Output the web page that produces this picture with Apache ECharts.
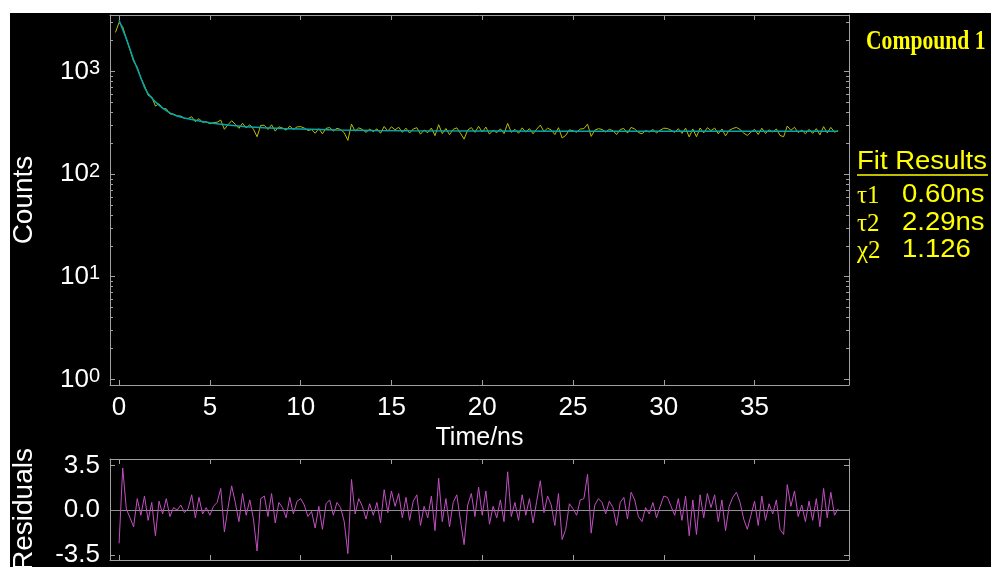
<!DOCTYPE html>
<html>
<head>
<meta charset="utf-8">
<script src="https://cdn.jsdelivr.net/npm/echarts@6/dist/echarts.min.js"></script>
<style>
html,body{margin:0;padding:0;background:#fff;}
#chart{width:991px;height:567px;}
</style>
</head>
<body>
<div id="chart"></div>
<script>
// ---- data ----
const xTickValues = [0, 5, 10, 15, 20, 25, 30, 35];
const countDecades = [1, 10, 100, 1000];
const residualTicks = [-3.5, 0.0, 3.5];

const countTime = [
  -0.2,
  0.0,0.2,0.4,0.6,0.8,1.0,1.2,1.4,1.6,1.8,
  2.0,2.2,2.4,2.6,2.8,3.0,3.2,3.4,3.6,3.8,
  4.0,4.2,4.4,4.6,4.8,5.0,5.2,5.4,5.6,5.8,
  6.0,6.2,6.4,6.6,6.8,7.0,7.2,7.4,7.6,7.8,
  8.0,8.2,8.4,8.6,8.8,9.0,9.2,9.4,9.6,9.8,
  10.0,10.2,10.4,10.6,10.8,11.0,11.2,11.4,11.6,11.8,
  12.0,12.2,12.4,12.6,12.8,13.0,13.2,13.4,13.6,13.8,
  14.0,14.2,14.4,14.6,14.8,15.0,15.2,15.4,15.6,15.8,
  16.0,16.2,16.4,16.6,16.8,17.0,17.2,17.4,17.6,17.8,
  18.0,18.2,18.4,18.6,18.8,19.0,19.2,19.4,19.6,19.8,
  20.0,20.2,20.4,20.6,20.8,21.0,21.2,21.4,21.6,21.8,
  22.0,22.2,22.4,22.6,22.8,23.0,23.2,23.4,23.6,23.8,
  24.0,24.2,24.4,24.6,24.8,25.0,25.2,25.4,25.6,25.8,
  26.0,26.2,26.4,26.6,26.8,27.0,27.2,27.4,27.6,27.8,
  28.0,28.2,28.4,28.6,28.8,29.0,29.2,29.4,29.6,29.8,
  30.0,30.2,30.4,30.6,30.8,31.0,31.2,31.4,31.6,31.8,
  32.0,32.2,32.4,32.6,32.8,33.0,33.2,33.4,33.6,33.8,
  34.0,34.2,34.4,34.6,34.8,35.0,35.2,35.4,35.6,35.8,
  36.0,36.2,36.4,36.6,36.8,37.0,37.2,37.4,37.6,37.8,
  38.0,38.2,38.4,38.6,38.8,39.0,39.2,39.4,39.6
];
const counts = [
  2400,
  3000,2725,2085,1625,1253,1100,858,729,585,564,
  460,485,434,433,385,384,368,368,348,348,
  362,324,347,319,324,309,318,320,336,273,
  303,331,306,279,313,282,302,274,231,298,
  299,272,302,262,289,281,268,294,272,288,
  290,281,266,271,250,277,247,279,284,263,
  279,272,253,213,307,262,282,272,255,274,
  259,276,250,291,262,289,270,286,255,280,
  251,275,283,245,269,253,281,237,303,248,
  278,242,273,282,250,219,269,284,255,292,
  257,287,245,268,253,276,248,312,255,273,
  250,282,256,277,247,274,300,260,280,269,
  243,283,225,238,270,264,256,275,277,307,
  233,268,277,272,257,273,265,243,272,278,
  251,285,275,254,247,265,257,272,252,267,
  280,278,267,255,277,249,280,230,275,231,
  281,252,283,265,281,247,275,236,267,278,
  285,272,251,238,256,273,243,280,249,270,
  257,275,238,231,294,267,286,254,268,247,
  273,249,277,241,290,252,285,256,264
];
const fitTime = [0,0.2,0.4,0.6,0.8,1.0,1.2,1.4,1.6,1.8,2.0,2.2,2.4,2.6,2.8,3.0,3.2,3.4,3.6,3.8,4.0,4.5,5,5.5,6,7,8,9,10,12,14,16,20,25,30,35,39.6];
const fitCounts = [3150,2560,2080,1650,1300,1070,870,700,605,550,505,470,440,415,395,380,368,360,352,346,340,327,316,308,300,289,282,278,275,269,266,264,263,262,262,262,262];

const residTime = countTime.slice(1);
const residuals = [
  -2.6,3.3,0.1,-0.6,-1.3,0.9,-0.4,1.1,-0.8,0.6,
  -2.0,0.7,-0.3,0.9,-0.5,0.2,0.0,0.4,-0.2,0.1,
  1.2,-0.6,1.0,-0.3,0.2,-0.4,0.3,0.6,1.7,-1.7,
  0.2,1.9,0.6,-0.9,1.3,-0.4,0.8,-0.7,-3.2,0.9,
  1.1,-0.5,1.3,-1.0,0.6,0.2,-0.6,1.0,-0.3,0.7,
  0.9,0.4,-0.5,-0.1,-1.4,0.3,-1.5,0.5,0.8,-0.4,
  0.6,0.2,-0.9,-3.4,2.4,-0.3,0.9,0.3,-0.7,0.5,
  -0.4,0.6,-1.0,1.6,-0.2,1.5,0.3,1.3,-0.6,1.0,
  -0.8,0.7,1.2,-1.2,0.3,-0.6,1.1,-1.6,2.5,-0.9,
  0.9,-1.3,0.6,1.2,-0.8,-2.7,0.4,1.3,-0.5,1.8,
  -0.4,1.5,-1.1,0.3,-0.6,0.8,-0.9,3.0,-0.5,0.6,
  -0.8,1.2,-0.4,0.9,-1.0,0.7,2.3,-0.2,1.1,0.4,
  -1.2,1.3,-2.3,-1.5,0.5,0.1,-0.4,0.8,0.9,2.8,
  -1.8,0.4,0.9,0.6,-0.3,0.7,0.2,-1.2,0.6,1.0,
  -0.7,1.4,0.8,-0.5,-0.9,0.2,-0.3,0.6,-0.6,0.3,
  1.1,1.0,0.3,-0.4,0.9,-0.8,1.1,-2.0,0.8,-1.9,
  1.2,-0.6,1.3,0.2,1.2,-0.9,0.8,-1.6,0.3,1.0,
  1.4,0.6,-0.7,-1.5,-0.4,0.7,-1.2,1.1,-0.8,0.5,
  -0.3,0.8,-1.5,-1.9,2.0,0.3,1.5,-0.5,0.4,-0.9,
  0.7,-0.8,0.9,-1.3,1.7,-0.6,1.4,-0.4,0.1
];

const titleText = 'Compound 1';
const fitHeader = 'Fit Results';
const fitLabels = ['\u03c41', '\u03c42', '\u03c72'];
const fitValues = ['0.60ns', '2.29ns', '1.126'];

// ---- build ----
const LOG = v => Math.log10(v);
const majorLog = countDecades.map(LOG);
const minorLog = [];
countDecades.forEach(d => { for (let k = 2; k <= 9; k++) minorLog.push(LOG(k * d)); });

const frame = '#a0a0a0';
const sans = '"Liberation Sans", Arial, sans-serif';
const serif = '"Liberation Serif", "Times New Roman", serif';
const yellow = '#ffff00';

const chart = echarts.init(document.getElementById('chart'), null, {renderer: 'canvas'});

function baseAxis(extra) {
  return Object.assign({
    type: 'value',
    axisLine: {show: true, onZero: false, lineStyle: {color: frame, width: 1}},
    axisLabel: {show: false}, splitLine: {show: false}
  }, extra);
}
function tickOnlyX(grid, pos, extra) {
  return baseAxis(Object.assign({
    gridIndex: grid, position: pos, min: -0.5, max: 40.2,
    axisTick: {show: true, inside: true, length: 5, lineStyle: {color: frame}, customValues: xTickValues}
  }, extra || {}));
}
const yMain = {min: -0.055, max: 3.55};
const yRes = {min: -3.9, max: 4.0};

const rowY = [195, 223, 250];
const graphics = [
  {type: 'rect', silent: true, z: -100, shape: {x: 10, y: 13, width: 981, height: 554}, style: {fill: '#000'}},
  {type: 'text', x: 866, y: 42, scaleX: 0.8, style: {text: titleText, fill: yellow, font: 'bold 27px ' + serif, textAlign: 'left', textVerticalAlign: 'middle'}},
  {type: 'text', x: 857, y: 162, scaleX: 1.1, style: {text: fitHeader, fill: yellow, font: '25px ' + sans, textAlign: 'left', textVerticalAlign: 'middle'}},
  {type: 'line', shape: {x1: 857, y1: 175, x2: 988, y2: 175}, style: {stroke: yellow, lineWidth: 1.5}}
];
fitLabels.forEach((s, i) => {
  graphics.push({type: 'text', x: 857, y: rowY[i] + 1, style: {text: s, fill: yellow, font: '25px ' + serif, textAlign: 'left', textVerticalAlign: 'middle'}});
  graphics.push({type: 'text', x: 902, y: rowY[i], scaleX: 1.1, style: {text: fitValues[i], fill: yellow, font: '25px ' + sans, textAlign: 'left', textVerticalAlign: 'middle'}});
});

const option = {
  backgroundColor: '#ffffff',
  animation: false,
  grid: [
    {left: 110, top: 15, width: 739, height: 370, containLabel: false, outerBoundsMode: 'none'},
    {left: 110, top: 459, width: 739, height: 101, containLabel: false, outerBoundsMode: 'none'}
  ],
  graphic: graphics,
  xAxis: [
    tickOnlyX(0, 'bottom', {
      axisLabel: {show: true, customValues: xTickValues, color: '#fff', fontSize: 26, fontFamily: sans, margin: 10},
      name: 'Time/ns', nameLocation: 'middle', nameGap: 41,
      nameTextStyle: {color: '#fff', fontSize: 25, fontFamily: sans}
    }),
    tickOnlyX(0, 'top'),
    tickOnlyX(1, 'bottom'),
    tickOnlyX(1, 'top')
  ],
  yAxis: [
    baseAxis(Object.assign({
      gridIndex: 0, position: 'left',
      axisTick: {show: true, inside: true, length: 5, lineStyle: {color: frame}, customValues: majorLog},
      axisLabel: {
        show: true, customValues: majorLog, margin: 10,
        formatter: v => '{b|10}{s|' + Math.round(v) + '}',
        rich: {
          b: {color: '#fff', fontSize: 26, fontFamily: sans},
          s: {color: '#fff', fontSize: 20, fontFamily: sans, verticalAlign: 'top', lineHeight: 18}
        }
      },
      name: 'Counts', nameLocation: 'middle', nameGap: 72,
      nameTextStyle: {color: '#fff', fontSize: 28, fontFamily: sans}
    }, yMain)),
    baseAxis(Object.assign({
      gridIndex: 0, position: 'left', axisLine: {show: false, onZero: false},
      axisTick: {show: true, inside: true, length: 3, lineStyle: {color: frame}, customValues: minorLog}
    }, yMain)),
    baseAxis(Object.assign({
      gridIndex: 0, position: 'right',
      axisTick: {show: true, inside: true, length: 5, lineStyle: {color: frame}, customValues: majorLog}
    }, yMain)),
    baseAxis(Object.assign({
      gridIndex: 0, position: 'right', axisLine: {show: false, onZero: false},
      axisTick: {show: true, inside: true, length: 3, lineStyle: {color: frame}, customValues: minorLog}
    }, yMain)),
    baseAxis(Object.assign({
      gridIndex: 1, position: 'left',
      axisTick: {show: true, inside: true, length: 5, lineStyle: {color: frame}, customValues: residualTicks},
      axisLabel: {show: true, customValues: residualTicks, margin: 10, color: '#fff', fontSize: 26, fontFamily: sans,
        formatter: v => v.toFixed(1)},
      name: 'Residuals', nameLocation: 'middle', nameGap: 72,
      nameTextStyle: {color: '#fff', fontSize: 28, fontFamily: sans}
    }, yRes)),
    baseAxis(Object.assign({
      gridIndex: 1, position: 'right',
      axisTick: {show: true, inside: true, length: 5, lineStyle: {color: frame}, customValues: residualTicks}
    }, yRes))
  ],
  series: [
    {
      type: 'line', name: 'Data', xAxisIndex: 0, yAxisIndex: 0, showSymbol: false, z: 3,
      lineStyle: {color: '#bcbc00', width: 1}, itemStyle: {color: '#bcbc00'},
      data: countTime.map((t, i) => [t, LOG(counts[i])])
    },
    {
      type: 'line', name: 'Fit', xAxisIndex: 0, yAxisIndex: 0, showSymbol: false, z: 4,
      lineStyle: {color: '#00a8b0', width: 1.5}, itemStyle: {color: '#00a8b0'},
      data: fitTime.map((t, i) => [t, LOG(fitCounts[i])])
    },
    {
      type: 'line', name: 'Residuals', xAxisIndex: 2, yAxisIndex: 4, showSymbol: false, z: 4,
      lineStyle: {color: '#c050c0', width: 1}, itemStyle: {color: '#c050c0'},
      data: residTime.map((t, i) => [t, residuals[i]]),
      markLine: {
        silent: true, symbol: 'none', label: {show: false}, z: 2,
        lineStyle: {color: '#909090', width: 1, type: 'solid'},
        data: [{yAxis: 0}]
      }
    }
  ]
};
chart.setOption(option);
</script>
</body>
</html>
